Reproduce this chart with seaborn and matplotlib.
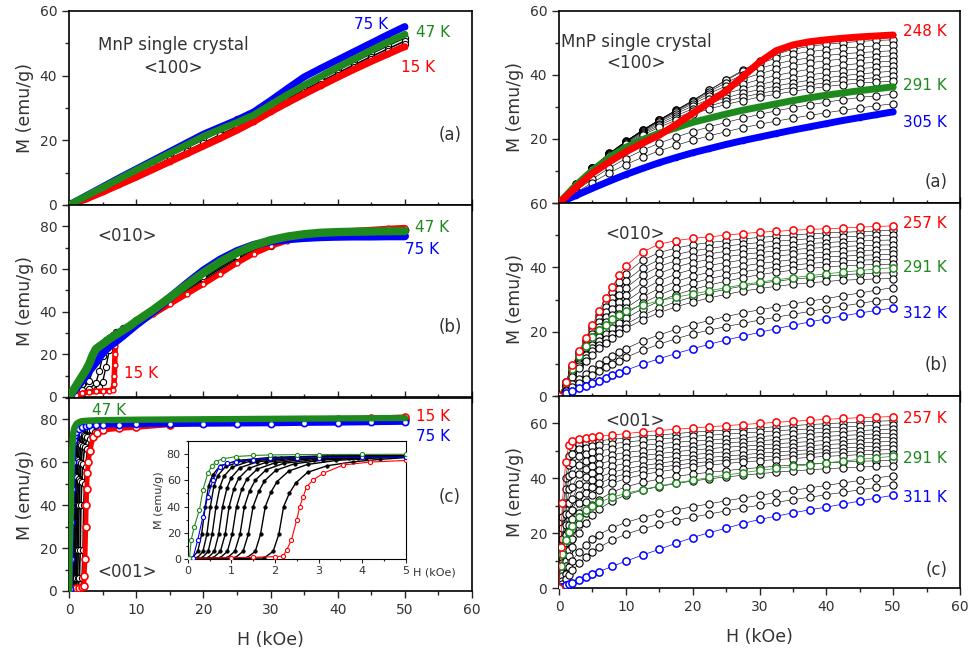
import matplotlib
matplotlib.use('Agg')
import matplotlib.pyplot as plt
import seaborn as sns
from matplotlib.ticker import MultipleLocator

sns.set_style('ticks')
plt.rcParams['font.family'] = ['DejaVu Sans']

RED = '#ff0000'
GREEN = '#1e8a1e'
BLUE = '#0000ff'
TXT = '#333333'

# ---------------- LEFT (a) <100>, 15 K / 47 K / 75 K ----------------
HL_a = [0, 2.5, 5, 7.5, 10, 12.5, 15, 17.5, 20, 22.5, 25, 27.5, 30, 32.5, 35, 37.5, 40, 42.5, 45, 47.5, 50]
la_red = [0, 1.8, 4.0, 6.3, 8.6, 11.0, 13.4, 15.8, 18.2, 20.6, 23.1, 25.8, 28.8, 31.6, 34.3, 36.9, 39.5, 42.0, 44.4, 46.7, 49.0]
la_green = [0, 2.7, 5.4, 8.1, 10.8, 13.4, 16.0, 18.6, 21.2, 23.4, 25.5, 27.8, 31.0, 34.1, 37.0, 39.8, 42.6, 45.2, 47.9, 50.4, 52.8]
la_blue = [0, 2.8, 5.6, 8.4, 11.1, 13.8, 16.5, 19.2, 21.9, 24.1, 26.3, 28.8, 32.3, 36.0, 39.6, 42.3, 44.9, 47.5, 50.1, 52.7, 55.2]
la_black = [
    [0, 2.6, 5.3, 8.0, 10.7, 13.3, 15.9, 18.5, 21.2, 23.8, 26.6, 28.6, 30.6, 33.4, 36.2, 39.0, 41.7, 44.3, 46.8, 49.3, 51.7],
    [0, 2.4, 5.0, 7.6, 10.1, 12.7, 15.2, 17.7, 20.2, 22.8, 25.4, 27.7, 30.0, 32.8, 35.5, 38.2, 40.8, 43.4, 45.9, 48.3, 50.7],
    [0, 2.1, 4.5, 7.0, 9.4, 11.8, 14.3, 16.7, 19.2, 21.7, 24.2, 26.7, 29.4, 32.1, 34.8, 37.5, 40.1, 42.7, 45.1, 47.5, 49.9],
]

# ---------------- LEFT (b) <010> ----------------
lb_red_h = [0, 1, 2, 3, 4, 5, 6, 6.5, 6.7, 6.75, 6.8, 6.85, 6.9, 7, 8, 9, 10, 12.5, 15, 17.5, 20, 22.5, 25, 27.5, 30, 32.5, 35, 37.5, 40, 42.5, 45, 47.5, 50]
lb_red_m = [0, 0.8, 1.8, 2.4, 2.6, 2.8, 3.0, 3.3, 6, 10, 15, 20, 24, 27, 29.5, 31.8, 34, 38.7, 43.5, 48.2, 52.9, 57.8, 62.8, 67.2, 70.6, 73.3, 75.2, 76.5, 77.3, 78.0, 78.5, 79.0, 79.4]
HL_b = [0, 0.5, 1, 1.5, 2, 2.5, 3, 3.5, 4, 4.5, 5, 6, 7, 8, 9, 10, 12.5, 15, 17.5, 20, 22.5, 25, 27.5, 30, 32.5, 35, 37.5, 40, 42.5, 45, 47.5, 50]
lb_green = [0, 2.5, 5, 7.5, 10, 12.5, 15.5, 19.5, 22.5, 23.7, 24.8, 27.2, 29.2, 31.2, 33.2, 35.5, 40.8, 46.6, 52.5, 58.2, 63.3, 67.6, 71.0, 73.5, 75.2, 76.3, 77.0, 77.3, 77.5, 77.6, 77.7, 77.8]
lb_blue = [0, 2, 4, 6, 8, 10, 12.4, 14.3, 16.3, 18.5, 20.8, 23.8, 26.2, 28.7, 31.3, 33.9, 40.0, 46.5, 53.0, 59.2, 64.3, 68.3, 71.2, 73.0, 74.0, 74.6, 75.0, 75.2, 75.3, 75.3, 75.4, 75.4]
HL_bk = [0, 1, 2, 3, 4, 4.5, 5, 5.5, 6, 6.5, 7, 8, 10, 15, 20, 25, 30, 35, 40, 45, 50]
lb_black = [
    [0, 1.0, 2.0, 2.8, 3.5, 4.5, 7, 14, 22, 25.5, 27.5, 30.5, 34.5, 44.5, 54.5, 64.0, 71.0, 75.0, 77.0, 77.8, 78.2],
    [0, 1.2, 2.4, 3.8, 6.5, 12, 19, 23.5, 25.5, 27, 28.6, 31, 35.0, 45.0, 55.3, 64.8, 71.5, 75.3, 77.2, 77.9, 78.2],
    [0, 1.6, 3.5, 7.5, 17, 22, 24.2, 25.8, 27.2, 28.5, 29.8, 32, 35.5, 45.6, 56.0, 65.5, 72.0, 75.6, 77.3, 77.9, 78.2],
    [0, 2.2, 6, 14, 21, 23.3, 25, 26.5, 27.8, 29, 30.3, 32.5, 36.0, 46.0, 56.8, 66.2, 72.5, 75.9, 77.5, 78.0, 78.3],
]

# ---------------- LEFT (c) <001> (also used by inset) ----------------
lc_red_h = [0, 1.0, 1.5, 2.0, 2.19, 2.27, 2.38, 2.5, 2.57, 2.65, 2.73, 2.88, 3.11, 3.57, 4.19, 5, 7.5, 10, 15, 20, 25, 30, 35, 40, 45, 50]
lc_red_m = [0.8, 1.3, 1.5, 2.0, 2.5, 7.1, 14.7, 29.9, 40, 47.6, 55.2, 60.3, 65.3, 71.6, 73.8, 75.0, 75.8, 76.3, 77.5, 78.4, 78.9, 79.3, 79.7, 80.1, 80.6, 81.2]
lc_green_h = [0, 0.04, 0.08, 0.15, 0.27, 0.35, 0.46, 0.55, 0.65, 0.8, 1.11, 1.5, 1.88, 2.5, 3, 4, 5, 7.5, 10, 15, 20, 25, 30, 35, 40, 45, 50]
lc_green_m = [0, 0.8, 14.7, 24.8, 37.5, 52.7, 65.3, 70.5, 74.2, 76.2, 78.0, 78.8, 79.2, 79.4, 79.5, 79.6, 79.7, 79.8, 79.9, 80.0, 80.1, 80.2, 80.3, 80.4, 80.5, 80.6, 80.7]
lc_blue_h = [0, 0.12, 0.23, 0.35, 0.46, 0.58, 0.73, 0.9, 1.11, 1.5, 1.88, 2.5, 3, 4, 5, 7.5, 10, 15, 20, 25, 30, 35, 40, 45, 50]
lc_blue_m = [0, 0.8, 14.7, 32.4, 47.6, 60.3, 70.4, 72.8, 74.2, 75.6, 76.7, 77.0, 77.2, 77.4, 77.5, 77.6, 77.7, 77.8, 77.9, 78.0, 78.1, 78.3, 78.4, 78.6, 78.8]
lc_black_h = [
    [0, 0.10, 0.23, 0.32, 0.40, 0.48, 0.57, 0.75, 1.15, 1.9, 3.0, 5, 10, 20, 35, 50],
    [0, 0.22, 0.35, 0.44, 0.52, 0.60, 0.69, 0.87, 1.27, 2.0, 3.0, 5, 10, 20, 35, 50],
    [0, 0.33, 0.47, 0.56, 0.65, 0.74, 0.83, 1.02, 1.42, 2.15, 3.0, 5, 10, 20, 35, 50],
    [0, 0.46, 0.61, 0.71, 0.80, 0.90, 1.00, 1.20, 1.60, 2.35, 3.2, 5, 10, 20, 35, 50],
    [0, 0.58, 0.75, 0.86, 0.95, 1.06, 1.17, 1.40, 1.80, 2.50, 3.3, 5, 10, 20, 35, 50],
    [0, 0.74, 0.91, 1.02, 1.12, 1.24, 1.36, 1.60, 2.00, 2.70, 3.5, 5, 10, 20, 35, 50],
    [0, 0.90, 1.08, 1.20, 1.30, 1.42, 1.55, 1.80, 2.20, 2.90, 3.7, 5, 10, 20, 35, 50],
    [0, 1.08, 1.27, 1.39, 1.50, 1.63, 1.76, 2.02, 2.45, 3.10, 3.9, 5, 10, 20, 35, 50],
    [0, 1.35, 1.55, 1.67, 1.78, 1.91, 2.05, 2.32, 2.75, 3.40, 4.1, 5, 10, 20, 35, 50],
    [0, 1.75, 1.96, 2.09, 2.20, 2.33, 2.48, 2.75, 3.20, 3.80, 4.4, 5, 10, 20, 35, 50],
]
lc_black_m = [
    [0, 1, 6, 19, 40, 56.0, 64.0, 71.0, 75.0, 77.3, 78.3, 78.9, 79.3, 79.7, 80.0, 80.3],
    [0, 1, 6, 19, 40, 55.5, 63.5, 70.5, 74.7, 77.0, 78.1, 78.8, 79.2, 79.6, 79.9, 80.2],
    [0, 1, 6, 19, 40, 55.0, 63.0, 70.0, 74.4, 76.8, 77.9, 78.7, 79.1, 79.5, 79.8, 80.1],
    [0, 1, 6, 19, 40, 54.0, 62.0, 69.5, 74.0, 76.5, 77.7, 78.6, 79.0, 79.4, 79.7, 80.0],
    [0, 1, 6, 19, 40, 53.5, 61.5, 69.0, 73.6, 76.2, 77.5, 78.5, 78.9, 79.3, 79.6, 79.9],
    [0, 1, 6, 19, 40, 53.0, 61.0, 68.5, 73.2, 75.9, 77.3, 78.4, 78.8, 79.2, 79.5, 79.8],
    [0, 1, 6, 19, 40, 52.0, 60.0, 68.0, 72.8, 75.6, 77.0, 78.2, 78.7, 79.1, 79.4, 79.7],
    [0, 1, 6, 19, 40, 51.5, 59.5, 67.5, 72.5, 75.3, 76.8, 78.0, 78.6, 79.0, 79.3, 79.6],
    [0, 1, 6, 19, 40, 51.0, 59.0, 67.0, 72.0, 75.0, 76.5, 77.8, 78.5, 78.9, 79.2, 79.5],
    [0, 1, 6, 19, 40, 50.0, 58.0, 66.0, 71.0, 74.0, 75.8, 77.2, 78.3, 78.8, 79.1, 79.4],
]

# ---------------- RIGHT (a) <100>, 248 K / 291 K / 305 K ----------------
HR_a = [0, 2.5, 5, 7.5, 10, 12.5, 15, 17.5, 20, 22.5, 25, 27.5, 30, 32.5, 35, 37.5, 40, 42.5, 45, 47.5, 50]
ra_red = [0, 4.8, 9.3, 12.8, 16.0, 18.7, 21.2, 24.5, 28.0, 31.5, 35.0, 39.5, 44.0, 47.6, 49.4, 50.4, 51.0, 51.5, 51.9, 52.2, 52.5]
ra_green = [0, 5.5, 10.2, 14.2, 17.4, 19.8, 21.8, 23.5, 25.2, 26.5, 27.8, 29.0, 30.0, 31.0, 32.0, 32.9, 33.7, 34.4, 35.1, 35.7, 36.3]
ra_blue = [0, 2.3, 4.6, 6.8, 8.9, 10.8, 12.6, 14.2, 15.7, 17.0, 18.3, 19.5, 20.6, 21.7, 22.8, 23.8, 24.8, 25.8, 26.7, 27.6, 28.5]
ra_black = [
    [0, 5.8, 11.0, 15.5, 19.3, 22.8, 26.0, 29.0, 32.0, 35.3, 38.5, 41.5, 44.3, 46.5, 48.0, 49.0, 49.6, 50.1, 50.5, 50.8, 51.0],
    [0, 5.8, 11.0, 15.5, 19.3, 22.8, 26.0, 29.0, 32.0, 35.2, 38.3, 41.2, 43.6, 45.3, 46.5, 47.3, 47.9, 48.4, 48.8, 49.1, 49.3],
    [0, 5.8, 10.9, 15.4, 19.2, 22.7, 25.9, 28.9, 31.8, 34.8, 37.6, 40.1, 42.1, 43.5, 44.6, 45.4, 46.1, 46.6, 47.0, 47.3, 47.6],
    [0, 5.7, 10.9, 15.4, 19.2, 22.6, 25.8, 28.7, 31.5, 34.2, 36.6, 38.7, 40.4, 41.8, 42.9, 43.8, 44.5, 45.0, 45.4, 45.7, 46.0],
    [0, 5.7, 10.8, 15.3, 19.1, 22.5, 25.6, 28.4, 31.0, 33.4, 35.4, 37.1, 38.6, 39.9, 40.9, 41.8, 42.5, 43.1, 43.6, 44.0, 44.4],
    [0, 5.7, 10.8, 15.2, 19.0, 22.3, 25.3, 27.9, 30.3, 32.4, 34.2, 35.7, 37.0, 38.2, 39.2, 40.0, 40.8, 41.4, 42.0, 42.4, 42.8],
    [0, 5.6, 10.7, 15.1, 18.8, 22.0, 24.8, 27.3, 29.4, 31.3, 32.9, 34.3, 35.5, 36.6, 37.5, 38.4, 39.1, 39.8, 40.3, 40.8, 41.2],
    [0, 5.6, 10.6, 14.9, 18.6, 21.6, 24.3, 26.6, 28.6, 30.3, 31.8, 33.1, 34.2, 35.2, 36.1, 36.9, 37.6, 38.3, 38.8, 39.2, 39.6],
    [0, 5.6, 10.5, 14.7, 18.3, 21.2, 23.7, 25.9, 27.8, 29.4, 30.8, 32.0, 33.1, 34.0, 34.9, 35.7, 36.4, 37.0, 37.5, 37.8, 38.0],
    [0, 3.8, 7.5, 10.9, 13.9, 16.5, 18.7, 20.6, 22.3, 23.8, 25.2, 26.5, 27.7, 28.8, 29.8, 30.7, 31.5, 32.3, 33.0, 33.5, 34.0],
    [0, 3.2, 6.4, 9.4, 12.0, 14.3, 16.3, 18.0, 19.6, 21.0, 22.3, 23.5, 24.6, 25.6, 26.5, 27.4, 28.2, 29.0, 29.7, 30.4, 31.0],
]

# ---------------- RIGHT (b) <010>, 257 K / 291 K / 312 K ----------------
HR_b = [0, 1, 2, 3, 4, 5, 6, 7, 8, 9, 10, 12.5, 15, 17.5, 20, 22.5, 25, 27.5, 30, 32.5, 35, 37.5, 40, 42.5, 45, 47.5, 50]
rb_red = [0, 4.5, 9.5, 14, 18, 22, 26.5, 30.5, 34, 37.5, 40.5, 44.8, 47.2, 48.3, 49, 49.5, 50, 50.5, 50.9, 51.2, 51.5, 51.8, 52, 52.2, 52.5, 52.7, 52.9]
rb_green = [0, 4.2, 8.5, 12.3, 15.5, 18.2, 20.4, 22.2, 23.8, 25.2, 26.5, 28.3, 29.6, 30.7, 31.7, 32.7, 33.7, 34.6, 35.4, 36.1, 36.8, 37.4, 38, 38.5, 39, 39.5, 39.9]
rb_blue = [0, 0.8, 1.6, 2.4, 3.2, 4.0, 4.8, 5.6, 6.4, 7.2, 8.0, 9.9, 11.6, 13.2, 14.7, 16.1, 17.4, 18.6, 19.8, 20.9, 22.0, 23.0, 24.0, 24.9, 25.8, 26.6, 27.4]
rb_black = [
    [0, 4.4, 9.2, 13.6, 17.5, 21.3, 25.3, 29.0, 32.3, 35.3, 38.0, 42.2, 44.6, 46.0, 47.0, 47.7, 48.3, 48.8, 49.3, 49.7, 50.1, 50.4, 50.7, 50.9, 51.1, 51.3, 51.5],
    [0, 4.2, 8.8, 13.0, 16.8, 20.4, 24.2, 27.6, 30.6, 33.3, 35.8, 39.8, 42.4, 44.0, 45.1, 45.9, 46.6, 47.2, 47.7, 48.1, 48.5, 48.9, 49.2, 49.5, 49.7, 49.9, 50.0],
    [0, 4.0, 8.4, 12.4, 16.0, 19.4, 22.9, 26.0, 28.8, 31.3, 33.6, 37.6, 40.3, 42.1, 43.3, 44.2, 45.0, 45.6, 46.1, 46.6, 47.0, 47.4, 47.7, 48.0, 48.2, 48.4, 48.5],
    [0, 3.9, 8.0, 11.8, 15.2, 18.4, 21.6, 24.5, 27.0, 29.3, 31.4, 35.3, 38.1, 40.1, 41.5, 42.5, 43.3, 44.0, 44.6, 45.1, 45.5, 45.9, 46.2, 46.5, 46.7, 46.9, 47.0],
    [0, 3.8, 7.7, 11.3, 14.5, 17.5, 20.4, 23.0, 25.3, 27.4, 29.3, 33.0, 35.8, 37.9, 39.4, 40.6, 41.5, 42.3, 43.0, 43.5, 44.0, 44.4, 44.7, 45.0, 45.2, 45.4, 45.5],
    [0, 3.7, 7.4, 10.8, 13.8, 16.6, 19.2, 21.6, 23.7, 25.6, 27.3, 30.8, 33.5, 35.6, 37.2, 38.5, 39.5, 40.4, 41.2, 41.8, 42.4, 42.8, 43.2, 43.5, 43.7, 43.9, 44.0],
    [0, 3.6, 7.1, 10.3, 13.2, 15.8, 18.2, 20.4, 22.3, 24.0, 25.6, 28.8, 31.4, 33.5, 35.1, 36.5, 37.6, 38.6, 39.4, 40.1, 40.7, 41.2, 41.6, 42.0, 42.2, 42.4, 42.5],
    [0, 3.5, 6.8, 9.8, 12.6, 15.0, 17.2, 19.2, 21.0, 22.6, 24.1, 27.1, 29.5, 31.5, 33.1, 34.5, 35.7, 36.8, 37.7, 38.5, 39.1, 39.7, 40.1, 40.5, 40.7, 40.9, 41.0],
    [0, 3.3, 6.4, 9.2, 11.7, 13.9, 15.9, 17.7, 19.4, 20.9, 22.3, 25.1, 27.4, 29.3, 30.8, 32.1, 33.2, 34.2, 35.0, 35.7, 36.3, 36.8, 37.3, 37.7, 38.0, 38.2, 38.3],
    [0, 3.1, 6.0, 8.6, 10.9, 12.9, 14.8, 16.5, 18.1, 19.6, 21.0, 23.7, 25.9, 27.7, 29.2, 30.5, 31.6, 32.6, 33.4, 34.1, 34.7, 35.2, 35.6, 36.0, 36.2, 36.4, 36.5],
    [0, 1.8, 3.6, 5.3, 6.9, 8.4, 9.8, 11.1, 12.4, 13.6, 14.7, 17.1, 19.0, 20.7, 22.2, 23.5, 24.7, 25.8, 26.8, 27.7, 28.6, 29.5, 30.3, 31.2, 32.0, 32.9, 33.7],
    [0, 1.4, 2.8, 4.1, 5.4, 6.6, 7.8, 8.9, 10.0, 11.0, 12.0, 14.2, 16.1, 17.8, 19.3, 20.5, 21.6, 22.6, 23.6, 24.5, 25.4, 26.3, 27.2, 28.0, 28.8, 29.6, 30.3],
]

# ---------------- RIGHT (c) <001>, 257 K / 291 K / 311 K ----------------
HR_c = [0, 0.25, 0.5, 1, 1.5, 2, 3, 4, 5, 6, 8, 10, 12.5, 15, 17.5, 20, 22.5, 25, 27.5, 30, 32.5, 35, 37.5, 40, 42.5, 45, 47.5, 50]
rc_red = [0, 15, 31, 46, 52.2, 53.6, 54.2, 54.6, 55.0, 55.3, 55.8, 56.3, 56.9, 57.4, 57.9, 58.3, 58.8, 59.2, 59.6, 60.0, 60.4, 60.8, 61.1, 61.5, 61.8, 62.1, 62.3, 62.5]
rc_green = [0, 8, 12.5, 17.5, 20.5, 22.5, 26, 28.3, 30.0, 31.3, 33.1, 34.5, 35.9, 37.2, 38.3, 39.3, 40.3, 41.2, 42.0, 42.9, 43.6, 44.3, 45.0, 45.6, 46.3, 46.9, 47.5, 48.0]
rc_blue = [0, 0.3, 0.5, 1.0, 1.5, 2.0, 3.0, 4.0, 5.0, 6.0, 7.9, 9.8, 12.0, 14.1, 16.3, 18.4, 20.2, 21.8, 23.5, 25.0, 26.2, 27.4, 28.5, 29.5, 30.6, 31.7, 32.8, 33.8]
rc_black = [
    [0, 12, 26, 40, 48, 51.5, 52.5, 53.0, 53.4, 53.7, 54.2, 54.7, 55.3, 55.8, 56.3, 56.8, 57.2, 57.6, 58.0, 58.4, 58.8, 59.2, 59.6, 59.9, 60.2, 60.5, 60.8, 61.0],
    [0, 10, 22, 36, 45, 49, 50.5, 51.1, 51.6, 52.0, 52.6, 53.2, 53.8, 54.3, 54.8, 55.3, 55.7, 56.1, 56.5, 56.9, 57.3, 57.7, 58.0, 58.4, 58.7, 59.0, 59.3, 59.5],
    [0, 8, 18, 31, 41, 45.5, 48.0, 48.9, 49.5, 50.0, 50.7, 51.4, 52.0, 52.6, 53.1, 53.6, 54.0, 54.4, 54.8, 55.2, 55.6, 56.0, 56.4, 56.8, 57.1, 57.4, 57.7, 58.0],
    [0, 7, 15, 27, 36, 41.5, 45.0, 46.3, 47.1, 47.7, 48.6, 49.4, 50.1, 50.8, 51.4, 51.9, 52.4, 52.9, 53.3, 53.7, 54.1, 54.5, 54.9, 55.3, 55.6, 55.9, 56.2, 56.5],
    [0, 6, 13, 23, 31, 37, 41.5, 43.4, 44.5, 45.3, 46.5, 47.4, 48.3, 49.0, 49.7, 50.3, 50.8, 51.3, 51.7, 52.1, 52.6, 53.0, 53.4, 53.8, 54.1, 54.4, 54.7, 55.0],
    [0, 5, 11, 19.5, 27, 32.5, 38, 40.6, 42.0, 43.0, 44.4, 45.5, 46.5, 47.3, 48.0, 48.6, 49.2, 49.7, 50.2, 50.6, 51.1, 51.5, 51.9, 52.3, 52.6, 52.9, 53.2, 53.5],
    [0, 4, 9, 16.5, 23, 28.5, 34, 37.3, 39.2, 40.5, 42.2, 43.5, 44.6, 45.5, 46.3, 47.0, 47.6, 48.1, 48.6, 49.1, 49.6, 50.0, 50.4, 50.8, 51.1, 51.4, 51.7, 52.0],
    [0, 3.5, 8, 14, 20, 25, 31, 34.5, 36.7, 38.2, 40.2, 41.7, 43.0, 44.0, 44.8, 45.5, 46.1, 46.7, 47.2, 47.7, 48.2, 48.6, 49.0, 49.4, 49.7, 50.0, 50.3, 50.5],
    [0, 3, 7, 12, 17, 21.5, 27.5, 31.5, 34.0, 35.8, 38.2, 39.9, 41.3, 42.4, 43.3, 44.1, 44.8, 45.4, 45.9, 46.4, 46.8, 47.2, 47.6, 48.0, 48.3, 48.6, 48.8, 49.0],
    [0, 2.5, 5.5, 10, 14, 18, 23.5, 27.5, 30.2, 32.2, 35.0, 36.9, 38.5, 39.7, 40.7, 41.5, 42.2, 42.8, 43.4, 43.9, 44.4, 44.8, 45.2, 45.6, 45.9, 46.2, 46.4, 46.5],
    [0, 2, 4.5, 8, 11.5, 15, 20, 23.8, 26.6, 28.7, 31.8, 33.9, 35.7, 37.0, 38.1, 39.0, 39.8, 40.5, 41.1, 41.7, 42.2, 42.7, 43.1, 43.5, 43.8, 44.1, 44.3, 44.5],
    [0, 1.2, 2.5, 5, 7.5, 10, 13.3, 15.8, 17.8, 19.5, 22.0, 23.9, 25.7, 27.2, 28.5, 29.6, 30.7, 31.8, 32.8, 33.8, 34.7, 35.6, 36.5, 37.4, 38.3, 39.2, 40.1, 41.0],
    [0, 0.8, 1.6, 3.2, 4.8, 6.4, 9.0, 11.2, 13.1, 14.8, 17.5, 19.6, 21.6, 23.2, 24.6, 25.8, 27.0, 28.1, 29.2, 30.2, 31.2, 32.2, 33.1, 34.0, 34.9, 35.8, 36.7, 37.5],
]


def draw(ax, h, m, color, lw, ms, mfc, mec=None, mew=1.0, z=2, marker='o'):
    sns.lineplot(x=h, y=m, ax=ax, color=color, linewidth=lw, marker=marker,
                 markersize=ms, markerfacecolor=mfc,
                 markeredgecolor=(mec if mec is not None else color),
                 markeredgewidth=mew, estimator=None, sort=False,
                 zorder=z, legend=False)


def style(ax, ylim, bottom):
    ax.set_xlim(0, 60)
    ax.set_ylim(*ylim)
    ax.xaxis.set_major_locator(MultipleLocator(10))
    ax.xaxis.set_minor_locator(MultipleLocator(5))
    ax.yaxis.set_major_locator(MultipleLocator(20))
    ax.yaxis.set_minor_locator(MultipleLocator(10))
    ax.tick_params(axis='y', which='both', direction='out', left=True, right=False,
                   labelsize=10, labelcolor=TXT, width=1.0)
    ax.tick_params(axis='y', which='major', length=5)
    ax.tick_params(axis='y', which='minor', length=3)
    ax.tick_params(axis='x', which='both', direction=('out' if bottom else 'inout'),
                   bottom=True, top=False, labelbottom=bottom,
                   labelsize=10, labelcolor=TXT, width=1.0)
    ax.tick_params(axis='x', which='major', length=(5 if bottom else 8))
    ax.tick_params(axis='x', which='minor', length=(3 if bottom else 5))
    for s in ax.spines.values():
        s.set_visible(True)
        s.set_linewidth(1.2)
        s.set_color('black')
    ax.set_ylabel('M (emu/g)', fontsize=12.5, color=TXT)
    if bottom:
        ax.set_xlabel('H (kOe)', fontsize=12.5, color=TXT, labelpad=10)
    else:
        ax.set_xlabel('')


fig = plt.figure(figsize=(9.68, 6.58), dpi=100)
W, Hh = 968.0, 658.0


def mkax(x0, x1, ytop, ybot):
    return fig.add_axes([x0 / W, 1 - ybot / Hh, (x1 - x0) / W, (ybot - ytop) / Hh])


axLa = mkax(69, 472, 11, 205)
axLb = mkax(69, 472, 205, 397)
axLc = mkax(69, 472, 398, 591)
axRa = mkax(559, 960, 11, 203)
axRb = mkax(559, 960, 203, 396)
axRc = mkax(559, 960, 396, 588)

# ----- Left (a)
for row in la_black:
    draw(axLa, HL_a, row, 'black', 1.2, 4.5, 'white', mew=0.8, z=2)
draw(axLa, HL_a, la_red, RED, 5, 3, RED, z=3)
draw(axLa, HL_a, la_blue, BLUE, 5, 3, BLUE, z=4)
draw(axLa, HL_a, la_green, GREEN, 5, 3, GREEN, z=5)
style(axLa, (0, 60), False)
axLa.text(15.6, 49.5, 'MnP single crystal', fontsize=12, color=TXT, ha='center', va='center')
axLa.text(15.5, 42.4, '<100>', fontsize=12, color=TXT, ha='center', va='center')
axLa.text(56.7, 21.7, '(a)', fontsize=12, color=TXT, ha='center', va='center')
axLa.text(45.0, 55.7, '75 K', fontsize=11, color=BLUE, ha='center', va='center')
axLa.text(54.2, 53.5, '47 K', fontsize=11, color=GREEN, ha='center', va='center')
axLa.text(52.0, 42.4, '15 K', fontsize=11, color=RED, ha='center', va='center')

# ----- Left (b)
for row in lb_black:
    draw(axLb, HL_bk, row, 'black', 1.0, 4.5, 'white', mew=0.8, z=2)
draw(axLb, lb_red_h, lb_red_m, RED, 4, 3.5, 'white', mew=1.0, z=3)
draw(axLb, HL_b, lb_blue, BLUE, 6, 3, BLUE, z=4)
draw(axLb, HL_b, lb_green, GREEN, 6, 3, GREEN, z=5)
style(axLb, (0, 90), False)
axLb.text(8.6, 75.4, '<010>', fontsize=12, color=TXT, ha='center', va='center')
axLb.text(56.7, 33.0, '(b)', fontsize=12, color=TXT, ha='center', va='center')
axLb.text(54.0, 79.4, '47 K', fontsize=11, color=GREEN, ha='center', va='center')
axLb.text(52.5, 69.2, '75 K', fontsize=11, color=BLUE, ha='center', va='center')
axLb.text(10.8, 11.1, '15 K', fontsize=11, color=RED, ha='center', va='center')

# ----- Left (c)
for hh, mm in zip(lc_black_h, lc_black_m):
    draw(axLc, hh, mm, 'black', 1.2, 4.5, 'white', mew=0.8, z=2)
draw(axLc, lc_red_h, lc_red_m, RED, 3.5, 5, 'white', mew=1.2, z=3)
draw(axLc, lc_blue_h, lc_blue_m, BLUE, 4, 4.5, 'white', mew=1.2, z=4)
draw(axLc, lc_green_h, lc_green_m, GREEN, 4.5, 3, GREEN, z=5)
style(axLc, (0, 90), True)
axLc.text(8.6, 9.0, '<001>', fontsize=12, color=TXT, ha='center', va='center')
axLc.text(56.7, 44.0, '(c)', fontsize=12, color=TXT, ha='center', va='center')
axLc.text(5.9, 84.3, '47 K', fontsize=11, color=GREEN, ha='center', va='center')
axLc.text(54.2, 81.5, '15 K', fontsize=11, color=RED, ha='center', va='center')
axLc.text(54.2, 72.1, '75 K', fontsize=11, color=BLUE, ha='center', va='center')

# ----- Inset in left (c)
axIn = fig.add_axes([187.7 / W, 1 - 559.3 / Hh, 218.0 / W, 118.6 / Hh])
axIn.set_facecolor('white')
for hh, mm in zip(lc_black_h, lc_black_m):
    draw(axIn, hh, mm, 'black', 1.0, 2.5, 'black', mew=0.5, z=2)
draw(axIn, lc_red_h, lc_red_m, RED, 0.8, 3, 'white', mew=0.8, z=3)
draw(axIn, lc_blue_h, lc_blue_m, BLUE, 0.8, 3, 'white', mew=0.8, z=4)
draw(axIn, lc_green_h, lc_green_m, GREEN, 0.8, 3, 'white', mew=0.8, z=5)
axIn.set_xlim(0, 5)
axIn.set_ylim(0, 90)
axIn.xaxis.set_major_locator(MultipleLocator(1))
axIn.xaxis.set_minor_locator(MultipleLocator(0.5))
axIn.yaxis.set_major_locator(MultipleLocator(20))
axIn.yaxis.set_minor_locator(MultipleLocator(10))
axIn.tick_params(which='both', direction='out', labelsize=8, labelcolor=TXT, width=0.8, pad=2)
axIn.tick_params(which='major', length=3)
axIn.tick_params(which='minor', length=1.5)
for s in axIn.spines.values():
    s.set_visible(True)
    s.set_linewidth(0.8)
    s.set_color('black')
axIn.set_xlabel('')
axIn.set_ylabel('M (emu/g)', fontsize=8, color=TXT, labelpad=2)
axIn.text(1.034, -0.115, 'H (kOe)', transform=axIn.transAxes, fontsize=8,
          color=TXT, ha='left', va='center')

# ----- Right (a)
for row in ra_black:
    draw(axRa, HR_a, row, 'black', 0.4, 5.2, 'white', mew=0.8, z=2)
draw(axRa, HR_a, ra_blue, BLUE, 5, 3, BLUE, z=3)
draw(axRa, HR_a, ra_green, GREEN, 5, 3, GREEN, z=4)
draw(axRa, HR_a, ra_red, RED, 5, 3, RED, z=5)
style(axRa, (0, 60), False)
axRa.set_yticks([0, 20, 40, 60])
axRa.set_yticklabels(['', '20', '40', '60'])
axRa.text(11.6, 50.4, 'MnP single crystal', fontsize=12, color=TXT, ha='center', va='center')
axRa.text(11.6, 43.7, '<100>', fontsize=12, color=TXT, ha='center', va='center')
axRa.text(56.5, 6.7, '(a)', fontsize=12, color=TXT, ha='center', va='center')
axRa.text(51.4, 53.5, '248 K', fontsize=11, color=RED, ha='left', va='center')
axRa.text(51.4, 36.6, '291 K', fontsize=11, color=GREEN, ha='left', va='center')
axRa.text(51.4, 25.1, '305 K', fontsize=11, color=BLUE, ha='left', va='center')

# ----- Right (b)
for row in rb_black:
    draw(axRb, HR_b, row, 'black', 0.4, 5.2, 'white', mew=0.8, z=2)
draw(axRb, HR_b, rb_blue, BLUE, 0.5, 5.2, 'white', mew=1.1, z=3)
draw(axRb, HR_b, rb_green, GREEN, 0.5, 5.2, 'white', mew=1.1, z=4)
draw(axRb, HR_b, rb_red, RED, 0.5, 5.2, 'white', mew=1.1, z=5)
style(axRb, (0, 60), False)
axRb.text(11.4, 50.3, '<010>', fontsize=12, color=TXT, ha='center', va='center')
axRb.text(56.5, 9.7, '(b)', fontsize=12, color=TXT, ha='center', va='center')
axRb.text(51.4, 53.75, '257 K', fontsize=11, color=RED, ha='left', va='center')
axRb.text(51.4, 39.9, '291 K', fontsize=11, color=GREEN, ha='left', va='center')
axRb.text(51.4, 25.8, '312 K', fontsize=11, color=BLUE, ha='left', va='center')

# ----- Right (c)
for row in rc_black:
    draw(axRc, HR_c, row, 'black', 0.4, 5.2, 'white', mew=0.8, z=2)
draw(axRc, HR_c, rc_blue, BLUE, 0.5, 5.2, 'white', mew=1.1, z=3)
draw(axRc, HR_c, rc_green, GREEN, 0.5, 5.2, 'white', mew=1.1, z=4)
draw(axRc, HR_c, rc_red, RED, 0.5, 5.2, 'white', mew=1.1, z=5)
style(axRc, (0, 70), True)
axRc.text(11.4, 60.8, '<001>', fontsize=12, color=TXT, ha='center', va='center')
axRc.text(56.5, 6.5, '(c)', fontsize=12, color=TXT, ha='center', va='center')
axRc.text(51.4, 61.7, '257 K', fontsize=11, color=RED, ha='left', va='center')
axRc.text(51.4, 47.2, '291 K', fontsize=11, color=GREEN, ha='left', va='center')
axRc.text(51.4, 33.0, '311 K', fontsize=11, color=BLUE, ha='left', va='center')

fig.savefig('out.png', dpi=100)
